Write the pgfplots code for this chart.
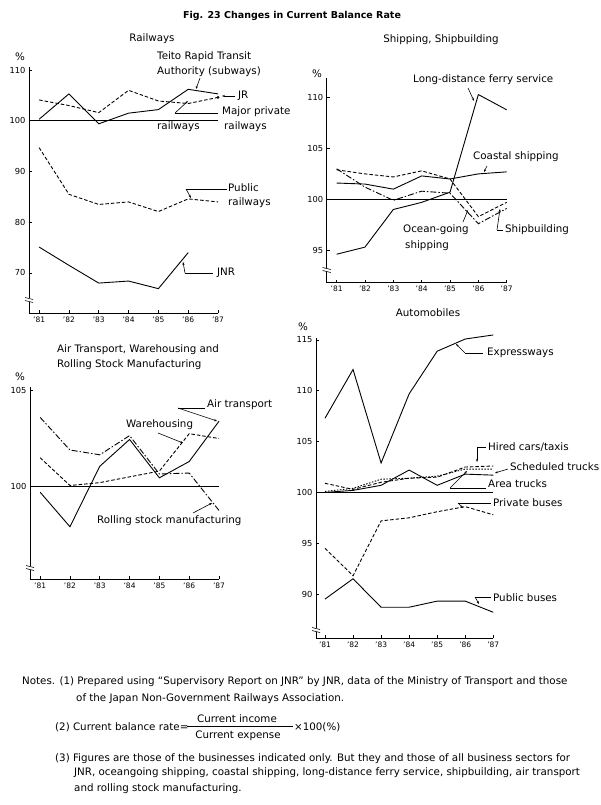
\documentclass[border=0pt]{standalone}
\usepackage{fontspec}
\setmainfont{DejaVu Sans}
\usepackage{pgfplots}
\pgfplotsset{compat=1.18}
\usetikzlibrary{arrows.meta}
\begin{document}
\begin{tikzpicture}[font=\fontsize{10.3}{12}\selectfont]
\fill[white] (0pt,0pt) rectangle (600pt,-805pt);
\pgfplotsset{
 panel/.style={
  scale only axis, anchor=south west,
  axis x line=bottom, axis y line=left,
  axis line style={-, line width=0.9pt},
  xtick={81,82,83,84,85,86,87},
  xticklabels={'81,'82,'83,'84,'85,'86,'87},
  xmax=87,
  tick align=inside, major tick length=3pt,
  tick style={line width=0.8pt, black},
  xticklabel style={font=\fontsize{7.5}{9}\selectfont},
  yticklabel style={font=\fontsize{8.3}{9}\selectfont},
  /pgf/number format/assume math mode=true,
  clip=false,
  cycle list={{black, solid, mark=none}},
  every axis plot/.append style={line width=0.9pt, black, mark=none},
 },
 sld/.style={solid},
 dsh/.style={dash pattern=on 3.5pt off 2pt},
 dshdot/.style={dash pattern=on 6pt off 2pt on 1.5pt off 2pt},
 dott/.style={dash pattern=on 1.5pt off 1.5pt},
}
% ---------------- Railways
\begin{axis}[panel, at={(29pt,-313pt)}, width=189pt, height=246pt,
  xmin=80.66, ymin=62.1, ymax=110.6, ytick={70,80,90,100,110}]
\addplot[sld, line width=1.3pt] coordinates {(80.66,100) (87,100)};
\addplot[sld] coordinates {(81,100.3)(82,105.3)(83,99.4)(84,101.5)(85,102.2)(86,106.2)(87,105.3)};
\addplot[dsh] coordinates {(81,104.1)(82,103.0)(83,101.6)(84,106.0)(85,103.9)(86,103.4)(87,104.6)};
\addplot[only marks, mark=*, mark size=0.9pt] coordinates {(87,104.6)};
\addplot[dsh] coordinates {(81,94.7)(82,85.5)(83,83.5)(84,84.0)(85,82.1)(86,84.6)(87,84.0)};
\addplot[sld] coordinates {(81,75.1)(82,71.5)(83,68.0)(84,68.4)(85,66.9)(86,74.0)};
\end{axis}
% ---------------- Shipping
\begin{axis}[panel, at={(326.7pt,-282.7pt)}, width=180pt, height=204.4pt,
  xmin=80.65, ymin=91.8, ymax=111.9, ytick={95,100,105,110}]
\addplot[sld] coordinates {(80.65,100) (87,100)};
\addplot[sld] coordinates {(81,94.6)(82,95.3)(83,99.0)(84,99.7)(85,100.7)(86,110.3)(87,108.8)};
\addplot[sld] coordinates {(81,101.6)(82,101.5)(83,101.0)(84,102.3)(85,102.0)(86,102.5)(87,102.7)};
\addplot[dshdot] coordinates {(81,103.0)(82,101.2)(83,99.9)(84,100.8)(85,100.6)(86,97.6)(87,99.1)};
\addplot[dsh] coordinates {(81,102.9)(82,102.5)(83,102.2)(84,102.8)(85,102.0)(86,98.3)(87,99.7)};
\end{axis}
% ---------------- Air transport
\begin{axis}[panel, at={(30pt,-579.3pt)}, width=189pt, height=192.6pt,
  xmin=80.66, ymin=95.16, ymax=105.2, ytick={100,105}]
\addplot[sld] coordinates {(80.66,100) (87,100)};
\addplot[sld] coordinates {(81,99.7)(82,97.9)(83,101.05)(84,102.45)(85,100.45)(86,101.3)(87,103.4)};
\addplot[dsh] coordinates {(81,101.5)(82,100.05)(83,100.2)(84,100.5)(85,100.8)(86,102.75)(87,102.5)};
\addplot[dshdot] coordinates {(81,103.6)(82,101.9)(83,101.65)(84,102.65)(85,100.65)(86,100.7)(87,98.75)};
\end{axis}
% ---------------- Automobiles
\begin{axis}[panel, at={(316pt,-638.3pt)}, width=177.3pt, height=300.3pt,
  xmin=80.68, ymin=85.64, ymax=115.2, ytick={90,95,100,105,110,115}]
\addplot[sld] coordinates {(80.68,100) (87,100)};
\addplot[sld] coordinates {(81,107.3)(82,112.1)(83,102.9)(84,109.7)(85,113.9)(86,115.1)(87,115.5)};
\addplot[dsh] coordinates {(81,100.9)(82,100.3)(83,101.0)(84,101.4)(85,101.5)(86,102.5)(87,102.6)};
\addplot[dott] coordinates {(81,100.1)(82,100.4)(83,101.3)(84,101.4)(85,101.6)(86,102.3)(87,102.3)};
\addplot[sld] coordinates {(81,100.0)(82,100.2)(83,100.7)(84,102.2)(85,100.7)(86,101.8)(87,101.7)};
\addplot[dsh] coordinates {(81,94.5)(82,91.8)(83,97.2)(84,97.5)(85,98.1)(86,98.6)(87,97.8)};
\addplot[sld] coordinates {(81,89.5)(82,91.5)(83,88.7)(84,88.7)(85,89.3)(86,89.3)(87,88.2)};
\end{axis}
% ---------------- axis breaks
\foreach \bx/\by in {29/300, 326.7/270, 30/568, 316/630}{
  \fill[white] (\bx pt-4pt,-\by pt+2pt) rectangle (\bx pt+4pt,-\by pt-2pt);
  \draw[line width=0.6pt] (\bx pt-4pt,-\by pt+2.5pt) -- (\bx pt+4pt,-\by pt+0.5pt);
  \draw[line width=0.6pt] (\bx pt-4pt,-\by pt-0.5pt) -- (\bx pt+4pt,-\by pt-2.5pt);
}
% ---------------- titles
\node[font=\bfseries\fontsize{9.5}{11}\selectfont] at (292pt,-16pt) {Fig. 23 Changes in Current Balance Rate};
\node at (152pt,-39pt) {Railways};
\node at (441pt,-40pt) {Shipping, Shipbuilding};
\node[anchor=west, inner sep=0pt] at (57pt,-350pt) {Air Transport, Warehousing and};
\node[anchor=west, inner sep=0pt] at (57pt,-365pt) {Rolling Stock Manufacturing};
\node at (428pt,-313pt) {Automobiles};
\foreach \px/\py in {20/57, 317/74, 20/377, 303/327}{\node[inner sep=0pt] at (\px pt,-\py pt) {\%};}
% ---------------- labels
\tikzset{ld/.style={line width=0.6pt}, la/.style={line width=0.6pt, -{Stealth[length=3pt,width=2.2pt]}}}
\begin{scope}[every node/.style={anchor=west, inner sep=0pt}]
% railways
\node at (157pt,-57pt) {Teito Rapid Transit};
\node at (157pt,-72pt) {Authority (subways)};
\draw[la] (200pt,-78pt) -- (196pt,-89pt);
\node at (238pt,-96pt) {JR};
\draw[la] (235pt,-96pt) -- (222pt,-96pt);
\node at (222pt,-112pt) {Major private};
\node at (224pt,-127pt) {railways};
\node at (157pt,-127pt) {railways};
\draw[ld] (218pt,-113pt) -- (175pt,-113pt);
\draw[la] (175pt,-113pt) -- (188pt,-101pt);
\node at (228pt,-188pt) {Public};
\node at (228pt,-203pt) {railways};
\draw[ld] (227pt,-189pt) -- (186pt,-189pt);
\draw[la] (186pt,-189pt) -- (191pt,-198pt);
\node at (217pt,-273pt) {JNR};
\draw[ld] (213pt,-273pt) -- (185pt,-273pt);
\draw[la] (185pt,-273pt) -- (183pt,-262pt);
% shipping
\node at (413pt,-80pt) {Long-distance ferry service};
\draw[la] (468pt,-88pt) -- (474pt,-101pt);
\node at (473pt,-157pt) {Coastal shipping};
\draw[la] (487pt,-166pt) -- (484pt,-172pt);
\node at (403pt,-230pt) {Ocean-going};
\node at (405pt,-246pt) {shipping};
\draw[la] (463pt,-222pt) -- (468pt,-210pt);
\node at (505pt,-230pt) {Shipbuilding};
\draw[ld] (503pt,-230pt) -- (497pt,-230pt);
\draw[la] (497pt,-230pt) -- (500pt,-209pt);
% air
\node at (207pt,-405pt) {Air transport};
\draw[ld] (205pt,-408pt) -- (178pt,-408pt);
\draw[la] (178pt,-408pt) -- (217pt,-421pt);
\node at (126pt,-425pt) {Warehousing};
\draw[la] (158pt,-433pt) -- (183pt,-443pt);
\node at (97pt,-521pt) {Rolling stock manufacturing};
\draw[la] (193pt,-513pt) -- (212pt,-503pt);
% automobiles
\node at (487pt,-353pt) {Expressways};
\draw[ld] (483pt,-353pt) -- (465pt,-353pt);
\draw[la] (465pt,-353pt) -- (456pt,-344pt);
\node at (488pt,-447pt) {Hired cars/taxis};
\draw[ld] (486pt,-447pt) -- (477pt,-447pt);
\draw[la] (477pt,-447pt) -- (477pt,-462pt);
\node at (510pt,-467pt) {Scheduled trucks};
\draw[la] (508pt,-469pt) -- (495pt,-473pt);
\node at (488pt,-484pt) {Area trucks};
\draw[ld] (486pt,-488pt) -- (450pt,-488pt);
\draw[la] (450pt,-488pt) -- (467pt,-471pt);
\node at (493pt,-503pt) {Private buses};
\draw[ld] (491pt,-503pt) -- (458pt,-503pt);
\draw[la] (458pt,-503pt) -- (463pt,-508pt);
\node at (493pt,-598pt) {Public buses};
\draw[ld] (491pt,-597pt) -- (475pt,-597pt);
\draw[la] (475pt,-597pt) -- (479pt,-604pt);
\end{scope}
% ---------------- notes
\begin{scope}[every node/.style={anchor=base west, inner sep=0pt}]
\node at (22pt,-684pt) {Notes. (1) Prepared using ``Supervisory Report on JNR'' by JNR, data of the Ministry of Transport and those};
\node at (76pt,-701pt) {of the Japan Non-Government Railways Association.};
\node at (55pt,-730pt) {(2) Current balance rate=};
\node[anchor=base] at (237pt,-722pt) {Current income};
\node[anchor=base] at (238pt,-738pt) {Current expense};
\node at (294pt,-730pt) {×100(\%)};
\node at (55pt,-761pt) {(3) Figures are those of the businesses indicated only. But they and those of all business sectors for};
\node at (74pt,-775pt) {JNR, oceangoing shipping, coastal shipping, long-distance ferry service, shipbuilding, air transport};
\node at (74pt,-791pt) {and rolling stock manufacturing.};
\end{scope}
\draw[line width=0.5pt] (187pt,-726.5pt) -- (293pt,-726.5pt);
\end{tikzpicture}
\end{document}
